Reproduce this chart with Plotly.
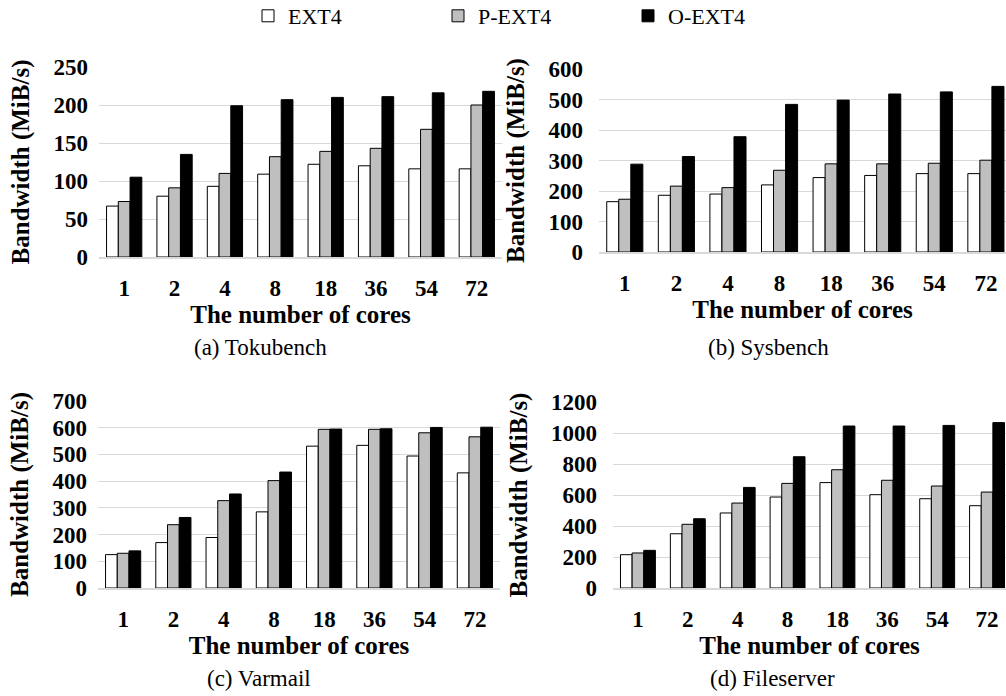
import plotly.graph_objects as go

cores = ["1", "2", "4", "8", "18", "36", "54", "72"]
series_names = ["EXT4", "P-EXT4", "O-EXT4"]

# (a) Tokubench
toku_ext4 = [67, 80, 93, 109, 122, 120, 116, 116]
toku_pext4 = [73, 91, 110, 132, 139, 143, 168, 200]
toku_oext4 = [105, 135, 199, 207, 210, 211, 216, 218]

# (b) Sysbench
sys_ext4 = [165, 186, 190, 220, 244, 251, 257, 257]
sys_pext4 = [173, 216, 211, 268, 289, 289, 291, 301]
sys_oext4 = [288, 313, 378, 484, 498, 518, 525, 543]

# (c) Varmail
var_ext4 = [125, 170, 189, 285, 531, 534, 494, 431]
var_pext4 = [130, 237, 327, 402, 594, 594, 581, 566]
var_oext4 = [139, 264, 352, 434, 595, 596, 601, 602]

# (d) Fileserver
fs_ext4 = [215, 350, 484, 587, 680, 602, 576, 531]
fs_pext4 = [226, 411, 548, 675, 763, 695, 658, 619]
fs_oext4 = [243, 447, 649, 847, 1045, 1045, 1049, 1067]

captions = ["(a) Tokubench", "(b) Sysbench", "(c) Varmail", "(d) Fileserver"]
y_ticks = [
    [0, 50, 100, 150, 200, 250],
    [0, 100, 200, 300, 400, 500, 600],
    [0, 100, 200, 300, 400, 500, 600, 700],
    [0, 200, 400, 600, 800, 1000, 1200],
]
x_title = "The number of cores"
y_title = "Bandwidth (MiB/s)"

panels = [
    [toku_ext4, toku_pext4, toku_oext4],
    [sys_ext4, sys_pext4, sys_oext4],
    [var_ext4, var_pext4, var_oext4],
    [fs_ext4, fs_pext4, fs_oext4],
]

W, H = 1006, 696
fills = ["#ffffff", "#bfbfbf", "#000000"]

def px_x(p):
    return p / W

def px_y(p):
    return 1 - p / H

# plot-area pixel boxes: (left, right, top, bottom), x range upper
boxes = [
    (99, 502, 67, 257, 7.5),
    (599, 1006, 69, 252, 7.39),
    (98, 500, 401, 588, 7.5),
    (613, 1006, 402, 588, 7.38),
]
ylab_standoff = [10, 15, 10, 15]

serif = "Liberation Serif"

fig = go.Figure()
layout = {}
for i, (vals, box) in enumerate(zip(panels, boxes)):
    sfx = "" if i == 0 else str(i + 1)
    for j, name in enumerate(series_names):
        fig.add_trace(go.Bar(
            x=cores, y=vals[j], name=name,
            marker=dict(color=fills[j], line=dict(color="#000000", width=1)),
            xaxis="x" + sfx, yaxis="y" + sfx,
            legendgroup=name, showlegend=(i == 0),
        ))
    l, r, t, b, xr = box
    layout["xaxis" + sfx] = dict(
        domain=[px_x(l), min(1.0, px_x(r))], anchor="y" + sfx,
        type="category", range=[-0.5, xr], automargin=False,
        showgrid=False, showline=True, linecolor="#d9d9d9", linewidth=1.5,
        ticks="", ticklabelstandoff=10,
        tickfont=dict(family=serif, size=23, color="#000000", weight="bold"),
        title=dict(text=x_title, standoff=0,
                   font=dict(family=serif, size=25, color="#000000", weight="bold")),
    )
    yt = y_ticks[i]
    layout["yaxis" + sfx] = dict(
        domain=[px_y(b), px_y(t)], anchor="x" + sfx,
        range=[0, yt[-1]], tickvals=yt, automargin=False,
        showgrid=True, gridcolor="#d9d9d9", gridwidth=1,
        zeroline=False, showline=False, ticks="",
        ticklabelstandoff=ylab_standoff[i],
        tickfont=dict(family=serif, size=23, color="#000000", weight="bold"),
        title=dict(text=y_title, standoff=16,
                   font=dict(family=serif, size=25, color="#000000", weight="bold")),
    )

caption_pos = [(260, 347), (768, 347), (259, 678), (772, 678)]
annotations = []
for cap, (cx, cy) in zip(captions, caption_pos):
    annotations.append(dict(
        text=cap, x=px_x(cx), y=px_y(cy), xref="paper", yref="paper",
        xanchor="center", yanchor="middle", showarrow=False,
        font=dict(family=serif, size=23, color="#000000"),
    ))

fig.update_layout(
    template="none",
    width=W, height=H,
    margin=dict(l=0, r=0, t=0, b=0, autoexpand=False),
    paper_bgcolor="#ffffff", plot_bgcolor="#ffffff",
    barmode="group", bargap=0.3, bargroupgap=0,
    showlegend=True,
    legend=dict(
        orientation="h", x=px_x(248), y=px_y(16),
        xanchor="left", yanchor="middle",
        entrywidth=145, entrywidthmode="pixels",
        font=dict(family=serif, size=22, color="#000000"),
        bgcolor="rgba(0,0,0,0)",
    ),
    annotations=annotations,
    **layout,
)

fig.write_html(
    "out.html",
    config={"displayModeBar": False},
    post_script="document.body.style.margin='0';document.body.style.overflow='hidden';",
)
